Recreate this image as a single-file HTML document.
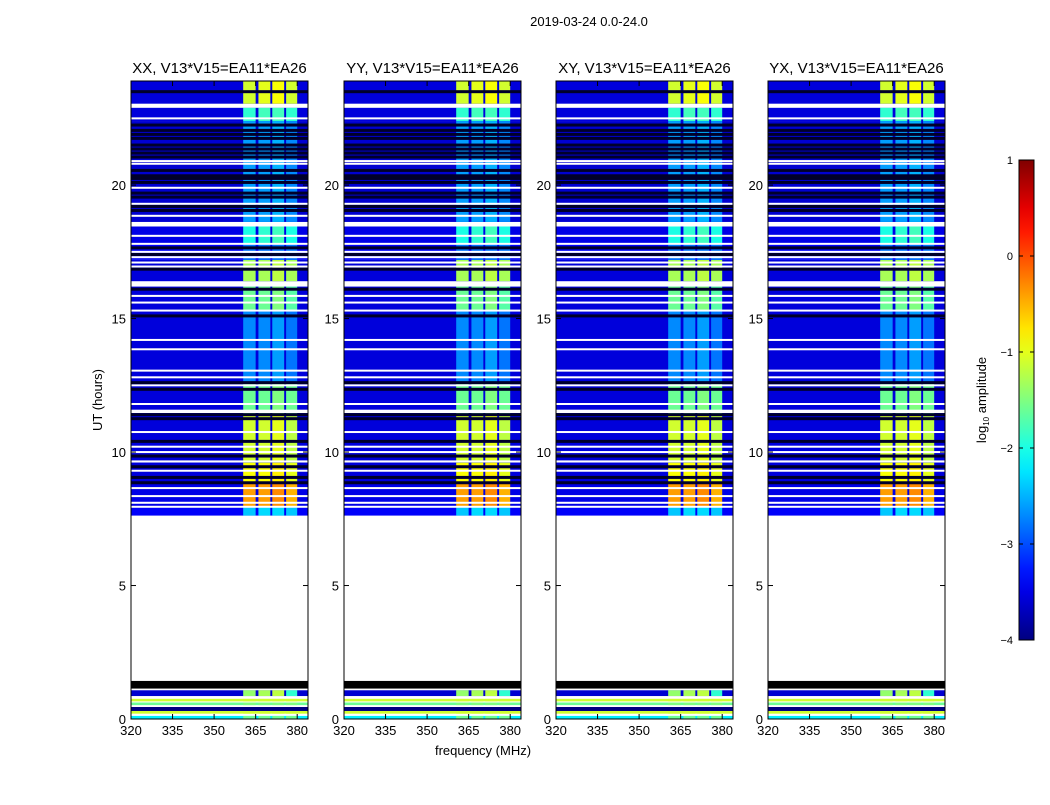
<!DOCTYPE html>
<html><head><meta charset="utf-8"><style>
body{margin:0;background:#fff;}
svg text{font-family:"Liberation Sans",sans-serif;fill:#000;}
</style></head><body>
<svg id="fig" width="1050" height="800" xmlns="http://www.w3.org/2000/svg">
<text x="589" y="26" font-size="13" text-anchor="middle">2019-03-24 0.0-24.0</text>
<text x="102" y="400" font-size="13" text-anchor="middle" transform="rotate(-90 102 400)">UT (hours)</text>
<text x="483" y="755" font-size="13" text-anchor="middle">frequency (MHz)</text>
<text x="986" y="400" font-size="13" text-anchor="middle" transform="rotate(-90 986 400)">log<tspan font-size="8" dy="3">10</tspan><tspan dy="-3"> amplitude</tspan></text>
</svg>
<script>
const panelTitles = ["XX, V13*V15=EA11*EA26","YY, V13*V15=EA11*EA26","XY, V13*V15=EA11*EA26","YX, V13*V15=EA11*EA26"];
const xTicks = [320,335,350,365,380];
const yTicks = [0,5,10,15,20];
const cbTicks = [1,0,-1,-2,-3,-4];
const bandEdges = [[360.5,365],[366,370.3],[371,375.3],[376,380]];
// [t0, t1, base log-amp, band1..band4]; null = flagged (white), -5 = black
const segments = [
 [0.0,0.12,-2.2,-1.6,-1.6,-1.6,-1.6],
 [0.12,0.2,null],
 [0.2,0.3,-1.1,-1.1,-1.1,-1.1,-1.1],
 [0.3,0.45,-4.2],
 [0.45,0.52,null],
 [0.52,0.62,-1.6,-1.5,-1.5,-1.5,-1.5],
 [0.62,0.66,null],
 [0.66,0.76,-1.1,-1.1,-1.1,-1.1,-1.1],
 [0.76,0.86,null],
 [0.86,1.08,-3.6,-1.4,-1.3,-1.2,-1.9],
 [1.08,1.14,null],
 [1.14,1.43,-5],
 [1.43,7.62,null],
 [7.62,7.95,-3.4,-2.4,-2.3,-2.3,-2.4],
 [7.95,8.85,-3.5,-0.4,-0.4,-0.3,-0.5],
 [8.85,9.6,-3.55,-0.9,-0.9,-0.8,-1.0],
 [9.6,11.4,-3.55,-1.1,-1.1,-1.0,-1.2],
 [11.4,12.55,-3.55,-1.6,-1.6,-1.5,-1.6],
 [12.55,15.3,-3.55,-2.7,-2.7,-2.6,-2.8],
 [15.3,16.2,-3.55,-1.6,-1.6,-1.5,-1.7],
 [16.2,16.4,null],
 [16.4,17.2,-3.55,-1.3,-1.3,-1.2,-1.3],
 [17.2,17.8,-3.4,-2.8,-2.8,-2.8,-2.8],
 [17.8,18.45,-3.5,-2.0,-1.9,-1.8,-2.0],
 [18.45,18.62,null],
 [18.62,22.4,-3.6,-2.6,-2.6,-2.5,-2.7],
 [22.4,22.9,-3.55,-1.9,-1.8,-1.8,-1.9],
 [22.9,23.05,null],
 [23.05,23.9,-3.55,-1.1,-1.0,-0.9,-1.1]
];
const whiteLines = [7.95,8.1,8.35,8.65,9.3,9.65,10.0,10.2,10.75,11.5,11.55,11.8,12.5,12.8,13.05,13.85,14.2,15.3,15.6,15.85,16.95,17.1,17.3,17.5,17.8,18.1,18.85,19.3,19.9,20.8,20.9,22.5];
const blackLines = [8.85,9.05,9.45,9.85,10.4,11.25,11.4,12.35,12.6,15.1,16.1,16.85,17.4,17.65,19.05,19.2,19.55,19.7,20.1,20.25,20.35,20.55,21.05,21.2,21.35,21.5,21.75,21.9,22.05,22.25,23.5];
const panelLefts=[131,344,556,768], PW=177, PT=81, PB=719, HMAX=23.9, FMIN=320, FMAX=383.9;
const NS="http://www.w3.org/2000/svg";
const svg=document.getElementById('fig');
function jet(v){
  if(v===null) return '#fff';
  if(v<=-4.5) return '#000';
  let t=Math.max(0,Math.min(1,(v+4)/5));
  const c=x=>Math.round(255*Math.max(0,Math.min(1,1.5-Math.abs(x))));
  return `rgb(${c(4*t-3)},${c(4*t-2)},${c(4*t-1)})`;
}
function mk(tag,attrs,parent){const e=document.createElementNS(NS,tag);for(const k in attrs)e.setAttribute(k,attrs[k]);(parent||svg).appendChild(e);return e;}
const yS=h=>PB-(h/HMAX)*(PB-PT);
panelLefts.forEach((L,p)=>{
  const xS=f=>L+(f-FMIN)/(FMAX-FMIN)*PW;
  const g=mk('g',{});
  
  
  segments.forEach(s=>{
    const y0=yS(s[1]), h=yS(s[0])-yS(s[1]);
    const r=mk('rect',{x:L,y:y0,width:PW,height:h,fill:jet(s[2])},g);
    
    
    if(s.length>3){
      bandEdges.forEach((b,i)=>{
        const br=mk('rect',{x:xS(b[0]),y:y0,width:xS(b[1])-xS(b[0]),height:h,fill:jet(s[3+i])},g);
        
        
      });
    }
  });
  whiteLines.forEach(t=>{const l=mk('rect',{x:L,y:yS(t)-1,width:PW,height:2,fill:'#fff'},g);
    
    });
  blackLines.forEach(t=>{const l=mk('rect',{x:L,y:yS(t)-1.5,width:PW,height:3,fill:'#00002a'},g);
    
    });
  const fr=mk('rect',{x:L,y:PT,width:PW,height:PB-PT,fill:'none',stroke:'#000','stroke-width':1},g);
  
  
  const tt=mk('text',{x:L+PW/2,y:73,'font-size':15,'text-anchor':'middle'},g);tt.textContent=panelTitles[p];
  
  
  xTicks.forEach(f=>{
    mk('line',{x1:xS(f),x2:xS(f),y1:PB,y2:PB-5,stroke:'#000'},g);
    mk('line',{x1:xS(f),x2:xS(f),y1:PT,y2:PT+5,stroke:'#000'},g);
    const t=mk('text',{x:xS(f),y:PB+16,'font-size':13,'text-anchor':'middle'},g);t.textContent=f;
    
    
  });
  yTicks.forEach(v=>{
    mk('line',{x1:L,x2:L+5,y1:yS(v),y2:yS(v),stroke:'#000'},g);
    mk('line',{x1:L+PW,x2:L+PW-5,y1:yS(v),y2:yS(v),stroke:'#000'},g);
    const t=mk('text',{x:L-5,y:yS(v)+5,'font-size':13,'text-anchor':'end'},g);t.textContent=v;
    
    
  });
});
// colorbar
const CBX=1019,CBW=15,CBT=160,CBB=640;
const cb=mk('g',{});


const defs=mk('defs',{},cb);
const grad=mk('linearGradient',{id:'jetg',x1:0,y1:1,x2:0,y2:0},defs);
for(let i=0;i<=20;i++){mk('stop',{offset:i/20,'stop-color':jet(-4+5*i/20)},grad);}
mk('rect',{x:CBX,y:CBT,width:CBW,height:CBB-CBT,fill:'url(#jetg)',stroke:'#000'},cb);
const cbY=v=>CBB-(v+4)/5*(CBB-CBT);
cbTicks.forEach(v=>{
  mk('line',{x1:CBX,x2:CBX+4,y1:cbY(v),y2:cbY(v),stroke:'#000'},cb);
  mk('line',{x1:CBX+CBW,x2:CBX+CBW-4,y1:cbY(v),y2:cbY(v),stroke:'#000'},cb);
  const t=mk('text',{x:CBX-6,y:cbY(v)+4,'font-size':11,'text-anchor':'end'},cb);
  t.textContent=v<0?'\u2212'+(-v):String(v);
  
  
});
</script>
</body></html>
